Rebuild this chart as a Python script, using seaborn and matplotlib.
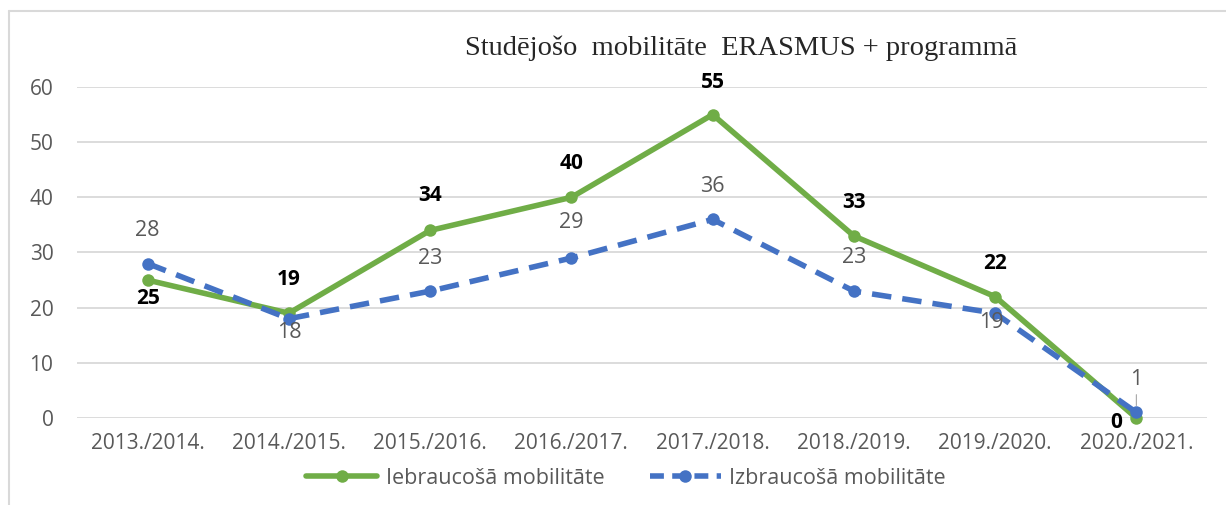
import pandas as pd
import matplotlib
matplotlib.use("Agg")
import matplotlib.pyplot as plt
from matplotlib.lines import Line2D
import seaborn as sns

# data
years = ["2013./2014.", "2014./2015.", "2015./2016.", "2016./2017.",
         "2017./2018.", "2018./2019.", "2019./2020.", "2020./2021."]
iebraucosa = [25, 19, 34, 40, 55, 33, 22, 0]
izbraucosa = [28, 18, 23, 29, 36, 23, 19, 1]

name_in = "Iebraucošā mobilitāte"
name_out = "Izbraucošā mobilitāte"

# label offsets in pixels (dx, dy) for each point
off_in = [(0, -18), (0, 34), (0, 35), (0, 34), (0, 32), (0, 33), (0, 33), (-20, -4)]
off_out = [(0, 33), (0, -14), (0, 33), (0, 36), (0, 33), (0, 34), (-4, -9), (0, 33)]

green = "#70AD47"
blue = "#4472C4"
gray = "#595959"

sns.set_style("white")
plt.rcParams['font.family'] = ['Open Sans', 'DejaVu Sans']

df = pd.DataFrame({"year": years, "in": iebraucosa, "out": izbraucosa})

fig = plt.figure(figsize=(12.26, 5.05), dpi=100)
ax = fig.add_axes([77 / 1226, 87 / 505, 1130 / 1226, 331 / 505])

sns.lineplot(data=df, x="year", y="in", ax=ax, color=green, lw=4, sort=False,
             marker="o", markersize=9, markeredgewidth=0, label=name_in)
sns.lineplot(data=df, x="year", y="out", ax=ax, color=blue, lw=4, sort=False,
             marker="o", markersize=9, markeredgewidth=0, label=name_out)
ax.lines[1].set_dashes((3.5, 2))
for ln in ax.lines:
    ln.set_clip_on(False)

ax.set_xlim(-0.5, len(years) - 0.5)
ax.set_ylim(0, 60)
ax.set_yticks(range(0, 61, 10))
ax.yaxis.grid(True, color="#D9D9D9", lw=1.3)
ax.set_axisbelow(True)
for s in ax.spines.values():
    s.set_visible(False)
ax.tick_params(axis="both", length=0, labelsize=15, colors=gray)
ax.tick_params(axis="y", pad=17)
ax.tick_params(axis="x", pad=11)
ax.set_xlabel("")
ax.set_ylabel("")

# data labels
for i, v in enumerate(iebraucosa):
    ax.annotate(str(v), (i, v), xytext=off_in[i], textcoords="offset pixels",
                ha="center", va="center", fontsize=15, fontweight="bold",
                color="black")
for i, v in enumerate(izbraucosa):
    arrow = None
    if i == len(izbraucosa) - 1:
        arrow = dict(arrowstyle="-", color="#A6A6A6", lw=0.8, shrinkA=1, shrinkB=5)
    ax.annotate(str(v), (i, v), xytext=off_out[i], textcoords="offset pixels",
                ha="center", va="center", fontsize=15.5, color=gray,
                arrowprops=arrow)

# title
fig.text(741 / 1226, 1 - 48 / 505, "Studējošo  mobilitāte  ERASMUS + programmā",
         ha="center", va="center", fontsize=20.5, family="Liberation Serif")

# legend below
ax.get_legend().remove()
handles = [Line2D([], [], color=green, lw=4, marker="o", markersize=9, markeredgewidth=0),
           Line2D([], [], color=blue, lw=4, marker="o", markersize=9, markeredgewidth=0,
                  dashes=(2.5, 1.5))]
leg = fig.legend(handles, [name_in, name_out], loc="center",
                 bbox_to_anchor=(626 / 1226, 1 - 478 / 505), ncol=2, frameon=False,
                 fontsize=15.5, handlelength=3.3, handletextpad=0.4,
                 columnspacing=2.1)
for t in leg.get_texts():
    t.set_color(gray)

# outer chart border (top and left visible)
fig.add_artist(Line2D([9 / 1226, 9 / 1226], [0, 1 - 11 / 505], color="#D9D9D9", lw=1.5,
                      transform=fig.transFigure))
fig.add_artist(Line2D([9 / 1226, 1], [1 - 11 / 505, 1 - 11 / 505], color="#D9D9D9", lw=1.5,
                      transform=fig.transFigure))

fig.savefig("out.png", dpi=100)
